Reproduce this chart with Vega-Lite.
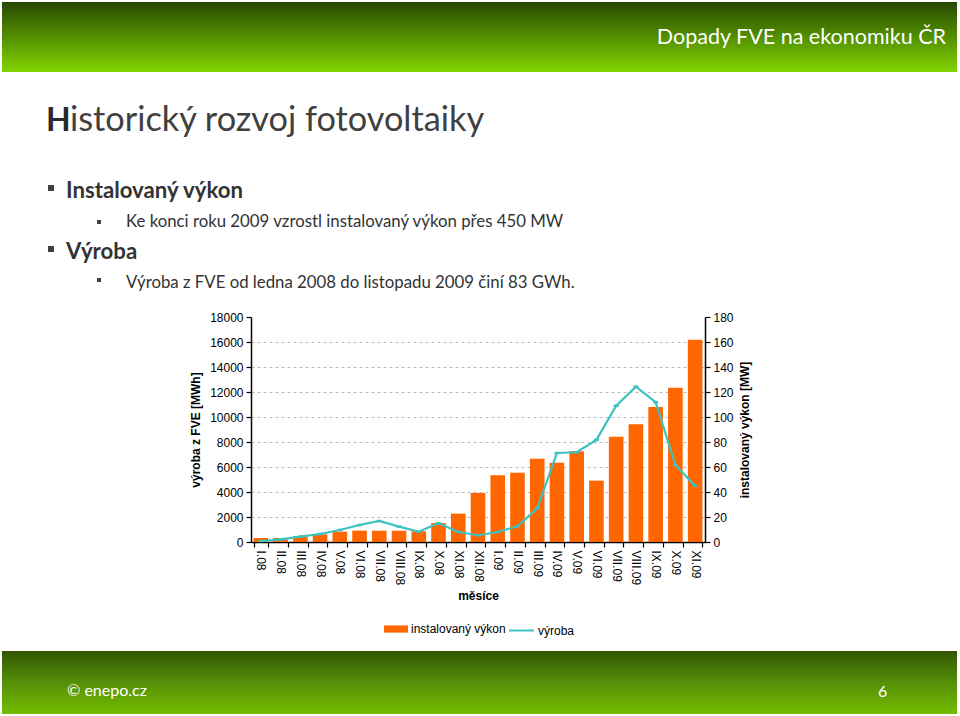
{
  "$schema": "https://vega.github.io/schema/vega-lite/v6.json",
  "width": 454,
  "height": 225,
  "autosize": {"type": "none"},
  "padding": {"left": 251, "top": 317, "right": 255, "bottom": 174},
  "background": "white",
  "config": {
    "view": {"stroke": null},
    "font": "Liberation Sans",
    "axis": {"labelFont": "Liberation Sans", "titleFont": "Liberation Sans", "labelFontSize": 12, "titleFontSize": 12, "labelColor": "#000", "titleColor": "#000", "titleFontWeight": "bold", "domainColor": "#000", "domainWidth": 1.5, "tickColor": "#000", "tickWidth": 1.2, "tickSize": 5},
    "legend": {"labelFont": "Liberation Sans", "labelFontSize": 12, "labelColor": "#000"}
  },
  "data": {
    "values": [
      {"mesic": "I.08", "vykon": 3.2, "vyroba": 80},
      {"mesic": "II.08", "vykon": 3.2, "vyroba": 213},
      {"mesic": "III.08", "vykon": 4.6, "vyroba": 430},
      {"mesic": "IV.08", "vykon": 6.1, "vyroba": 640},
      {"mesic": "V.08", "vykon": 8.3, "vyroba": 960},
      {"mesic": "VI.08", "vykon": 9.1, "vyroba": 1360},
      {"mesic": "VII.08", "vykon": 9.1, "vyroba": 1680},
      {"mesic": "VIII.08", "vykon": 9.1, "vyroba": 1230},
      {"mesic": "IX.08", "vykon": 8.6, "vyroba": 824},
      {"mesic": "X.08", "vykon": 15.2, "vyroba": 1500},
      {"mesic": "XI.08", "vykon": 22.7, "vyroba": 800},
      {"mesic": "XII.08", "vykon": 39.2, "vyroba": 540},
      {"mesic": "I.09", "vykon": 53.4, "vyroba": 800},
      {"mesic": "II.09", "vykon": 55.5, "vyroba": 1256},
      {"mesic": "III.09", "vykon": 66.7, "vyroba": 2700},
      {"mesic": "IV.09", "vykon": 63.5, "vyroba": 7120},
      {"mesic": "V.09", "vykon": 72.6, "vyroba": 7180},
      {"mesic": "VI.09", "vykon": 49.1, "vyroba": 8170},
      {"mesic": "VII.09", "vykon": 84.3, "vyroba": 10900},
      {"mesic": "VIII.09", "vykon": 94.2, "vyroba": 12420},
      {"mesic": "IX.09", "vykon": 108, "vyroba": 11180},
      {"mesic": "X.09", "vykon": 123.5, "vyroba": 6160},
      {"mesic": "XI.09", "vykon": 161.9, "vyroba": 4490}
    ]
  },
  "layer": [
    {
      "data": {"values": [{}]},
      "mark": {"type": "rect", "x": -249, "x2": 706, "y": -315, "y2": -245,
        "fill": {"gradient": "linear", "x1": 0, "y1": 0, "x2": 0, "y2": 1, "stops": [{"offset": 0, "color": "#284800"}, {"offset": 0.5, "color": "#528f00"}, {"offset": 1, "color": "#82d400"}]}},
      "encoding": {}
    },
    {
      "data": {"values": [{}]},
      "mark": {"type": "rect", "x": -249, "x2": 706, "y": 334, "y2": 397,
        "fill": {"gradient": "linear", "x1": 0, "y1": 0, "x2": 0, "y2": 1, "stops": [{"offset": 0, "color": "#325700"}, {"offset": 0.5, "color": "#558f08"}, {"offset": 1, "color": "#74bc00"}]}},
      "encoding": {}
    },
    {
      "data": {"values": [{}]},
      "mark": {"type": "text", "text": "Dopady FVE na ekonomiku ČR", "x": 695, "y": -273, "align": "right", "baseline": "alphabetic", "font": "Lato", "fontSize": 21.5, "color": "#ffffff"},
      "encoding": {}
    },
    {
      "data": {"values": [{}]},
      "mark": {"type": "text", "text": "H", "x": -205, "y": -186, "align": "left", "baseline": "alphabetic", "font": "Lato", "fontWeight": "bold", "fontSize": 32, "color": "#2a2a2a"},
      "encoding": {}
    },
    {
      "data": {"values": [{}]},
      "mark": {"type": "text", "text": "istorický rozvoj fotovoltaiky", "x": -181, "y": -186, "align": "left", "baseline": "alphabetic", "font": "Lato", "fontSize": 34.3, "color": "#404040"},
      "encoding": {}
    },
    {
      "data": {"values": [{}]},
      "mark": {"type": "square", "x": -200, "y": -129, "size": 36, "color": "#404040", "opacity": 1},
      "encoding": {}
    },
    {
      "data": {"values": [{}]},
      "mark": {"type": "square", "x": -200, "y": -68, "size": 36, "color": "#404040", "opacity": 1},
      "encoding": {}
    },
    {
      "data": {"values": [{}]},
      "mark": {"type": "square", "x": -152, "y": -95, "size": 16, "color": "#404040", "opacity": 1},
      "encoding": {}
    },
    {
      "data": {"values": [{}]},
      "mark": {"type": "square", "x": -152, "y": -37, "size": 16, "color": "#404040", "opacity": 1},
      "encoding": {}
    },
    {
      "data": {"values": [{}]},
      "mark": {"type": "text", "text": "Instalovaný výkon", "x": -185, "y": -119, "align": "left", "baseline": "alphabetic", "font": "Lato", "fontWeight": "bold", "fontSize": 22.2, "color": "#333333"},
      "encoding": {}
    },
    {
      "data": {"values": [{}]},
      "mark": {"type": "text", "text": "Ke konci roku 2009 vzrostl instalovaný výkon přes 450 MW", "x": -125, "y": -90, "align": "left", "baseline": "alphabetic", "font": "Lato", "fontSize": 16.8, "color": "#333333"},
      "encoding": {}
    },
    {
      "data": {"values": [{}]},
      "mark": {"type": "text", "text": "Výroba", "x": -185, "y": -58, "align": "left", "baseline": "alphabetic", "font": "Lato", "fontWeight": "bold", "fontSize": 22.2, "color": "#333333"},
      "encoding": {}
    },
    {
      "data": {"values": [{}]},
      "mark": {"type": "text", "text": "Výroba z FVE od ledna 2008 do listopadu 2009 činí 83 GWh.", "x": -125, "y": -29, "align": "left", "baseline": "alphabetic", "font": "Lato", "fontSize": 16.8, "color": "#333333"},
      "encoding": {}
    },
    {
      "data": {"values": [{}]},
      "mark": {"type": "text", "text": "© enepo.cz", "x": -184, "y": 374, "align": "left", "baseline": "middle", "font": "Lato", "fontSize": 16, "color": "#ffffff"},
      "encoding": {}
    },
    {
      "data": {"values": [{}]},
      "mark": {"type": "text", "text": "6", "x": 627, "y": 375, "align": "left", "baseline": "middle", "font": "Lato", "fontSize": 16, "color": "#ffffff"},
      "encoding": {}
    },
    {
      "mark": {"type": "bar"},
      "encoding": {
        "x": {"field": "mesic", "type": "nominal", "sort": null,
          "scale": {"paddingInner": 0.26, "paddingOuter": 0.13},
          "axis": {"title": "měsíce", "labelAngle": 90, "tickBand": "extent", "grid": false, "labelPadding": 3, "titlePadding": 6}},
        "y": {"field": "vykon", "type": "quantitative",
          "scale": {"domain": [0, 180], "nice": false},
          "axis": {"orient": "right", "title": "instalovaný výkon [MW]", "values": [0, 20, 40, 60, 80, 100, 120, 140, 160, 180], "grid": false, "titleAngle": 270, "titleBaseline": "top", "titlePadding": 6, "labelPadding": 3}},
        "fill": {"datum": "instalovaný výkon", "type": "nominal",
          "scale": {"range": ["#ff6600"]},
          "legend": {"title": null, "orient": "none", "legendX": 133, "legendY": 300, "symbolType": "M-1,-0.3H1V0.3H-1Z", "symbolSize": 576, "symbolOpacity": 1, "symbolStrokeWidth": 0, "labelOffset": 3, "padding": 0}}
      }
    },
    {
      "mark": {"type": "line", "interpolate": "linear", "strokeWidth": 2.2},
      "encoding": {
        "x": {"field": "mesic", "type": "nominal", "sort": null,
          "scale": {"paddingInner": 0.26, "paddingOuter": 0.13},
          "axis": {"title": "měsíce", "labelAngle": 90, "tickBand": "extent", "grid": false, "labelPadding": 3, "titlePadding": 6}},
        "y": {"field": "vyroba", "type": "quantitative",
          "scale": {"domain": [0, 18000], "nice": false},
          "axis": {"orient": "left", "title": "výroba z FVE [MWh]", "format": "d", "values": [0, 2000, 4000, 6000, 8000, 10000, 12000, 14000, 16000, 18000], "grid": true, "gridColor": "#bbbbbb", "gridDash": [3, 3], "gridWidth": 1,
            "gridOpacity": {"condition": {"test": "datum.value === 0 || datum.value === 18000", "value": 0}, "value": 1},
            "titlePadding": 7, "labelPadding": 3}},
        "stroke": {"datum": "výroba", "type": "nominal",
          "scale": {"range": ["#3cc2c0"]},
          "legend": {"title": null, "orient": "none", "legendX": 257, "legendY": 300, "symbolType": "stroke", "symbolSize": 625, "symbolStrokeWidth": 2, "labelOffset": 3, "padding": 0}}
      }
    },
    {
      "mark": {"type": "point", "shape": "M-1,-0.5H1V0.5H-1Z", "size": 25, "filled": true, "color": "#3cc2c0", "opacity": 1},
      "encoding": {
        "x": {"field": "mesic", "type": "nominal", "sort": null,
          "scale": {"paddingInner": 0.26, "paddingOuter": 0.13},
          "axis": {"title": "měsíce", "labelAngle": 90, "tickBand": "extent", "grid": false, "labelPadding": 3, "titlePadding": 6}},
        "y": {"field": "vyroba", "type": "quantitative", "scale": {"domain": [0, 18000], "nice": false}, "axis": null}
      }
    }
  ],
  "resolve": {"scale": {"y": "independent"}}
}
